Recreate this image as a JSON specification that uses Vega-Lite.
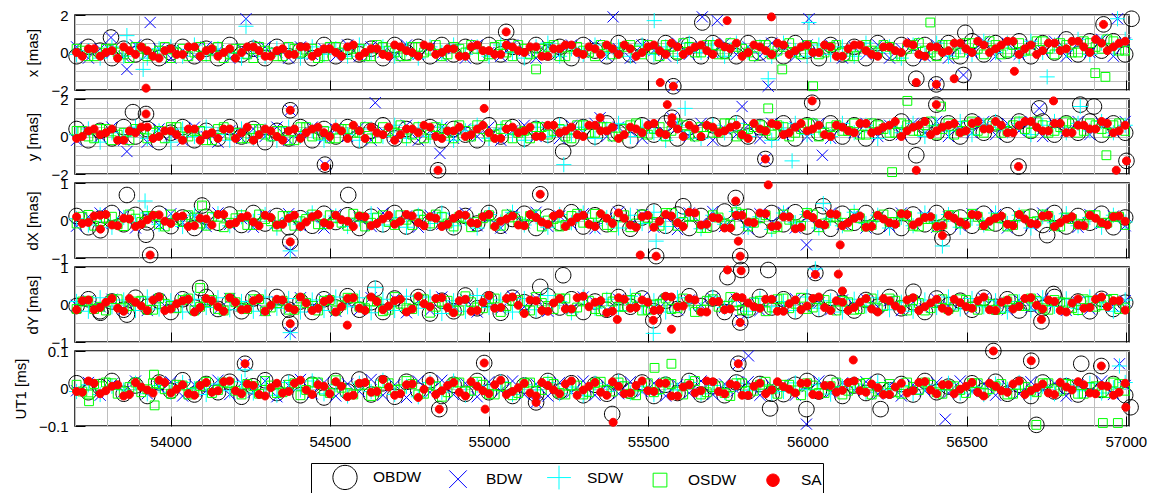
{
"$schema":"https://vega.github.io/schema/vega-lite/v6.json",
"background":"white",
"padding":{"left":12,"top":7,"right":5,"bottom":0},
"bounds":"flush",
"spacing":9,
"config":{
"font":"Liberation Sans",
"view":{"stroke":"black","strokeWidth":1.5},
"axis":{"labelFont":"Liberation Sans","labelFontSize":15,"labelColor":"black","titleFont":"Liberation Sans","titleFontSize":15,"titleFontWeight":"normal","titleColor":"black","gridColor":"#bebebe","gridWidth":1,"gridOpacity":1,"domain":false,"tickColor":"black","tickWidth":1,"labelFlush":false,"labelOverlap":false,"labelBound":false},
"legend":{"direction":"horizontal","columns":5,"symbolSize":625,"symbolStrokeWidth":1,"labelFont":"Liberation Sans","labelFontSize":15.5,"labelColor":"black","labelOffset":15,"columnPadding":3,"padding":1,"strokeColor":"black","strokeWidth":1,"fillColor":"white","symbolOffset":20,"labelLimit":0}
},
"datasets":{
"px":[
{"t":53705,"a":-0.2,"b":0.3,"c":-0.1,"d":0.2,"e":0.0},
{"t":53742,"a":0.3,"b":-0.3,"c":0.1,"d":-0.2,"e":0.2},
{"t":53779,"a":0.1,"b":0.2,"c":-0.3,"d":0.0,"e":-0.2},
{"t":53816,"a":-0.3,"b":0.0,"c":0.3,"d":0.2,"e":0.1},
{"t":53853,"a":0.2,"b":-0.2,"c":-0.2,"d":-0.1,"e":0.3},
{"t":53890,"a":-0.1,"b":0.4,"c":0.1,"d":0.3,"e":-0.1},
{"t":53927,"a":0.3,"b":-0.1,"c":-0.3,"d":-0.2,"e":0.1},
{"t":53964,"a":-0.3,"b":0.2,"c":0.2,"d":0.1,"e":-0.3},
{"t":54001,"a":0.0,"b":-0.3,"c":0.3,"d":-0.3,"e":0.2},
{"t":54038,"a":0.3,"b":0.1,"c":-0.2,"d":0.2,"e":-0.1},
{"t":54075,"a":-0.2,"b":-0.2,"c":0.4,"d":0.0,"e":0.3},
{"t":54112,"a":0.2,"b":0.3,"c":-0.1,"d":-0.2,"e":0.1},
{"t":54149,"a":-0.3,"b":0.1,"c":0.2,"d":0.3,"e":-0.2},
{"t":54186,"a":0.4,"b":-0.3,"c":0.0,"d":-0.1,"e":0.2},
{"t":54223,"a":-0.1,"b":0.2,"c":-0.3,"d":0.2,"e":0.0},
{"t":54260,"a":0.2,"b":-0.1,"c":0.3,"d":-0.3,"e":0.3},
{"t":54297,"a":-0.3,"b":0.3,"c":-0.2,"d":0.1,"e":-0.2},
{"t":54334,"a":0.3,"b":0.0,"c":0.2,"d":-0.2,"e":0.1},
{"t":54371,"a":-0.2,"b":-0.3,"c":0.1,"d":0.3,"e":-0.1},
{"t":54408,"a":0.1,"b":0.3,"c":-0.3,"d":0.0,"e":0.3},
{"t":54445,"a":-0.3,"b":-0.1,"c":0.3,"d":0.2,"e":-0.2},
{"t":54482,"a":0.4,"b":0.2,"c":-0.1,"d":-0.2,"e":0.2},
{"t":54519,"a":-0.2,"b":-0.2,"c":0.2,"d":0.3,"e":0.0},
{"t":54556,"a":0.3,"b":0.4,"c":-0.2,"d":-0.1,"e":0.3},
{"t":54593,"a":-0.1,"b":-0.2,"c":0.4,"d":0.2,"e":-0.2},
{"t":54630,"a":0.2,"b":0.3,"c":0.0,"d":-0.2,"e":0.2},
{"t":54667,"a":-0.3,"b":0.0,"c":0.3,"d":0.3,"e":-0.1},
{"t":54704,"a":0.4,"b":-0.2,"c":-0.2,"d":0.0,"e":0.4},
{"t":54741,"a":0.0,"b":0.4,"c":0.2,"d":-0.2,"e":0.1},
{"t":54778,"a":0.3,"b":-0.1,"c":-0.3,"d":0.3,"e":-0.2},
{"t":54815,"a":-0.2,"b":0.3,"c":0.3,"d":0.1,"e":0.3},
{"t":54852,"a":0.4,"b":-0.2,"c":0.0,"d":-0.2,"e":0.0},
{"t":54889,"a":-0.1,"b":0.2,"c":0.4,"d":0.3,"e":0.2},
{"t":54926,"a":0.3,"b":-0.3,"c":-0.1,"d":0.0,"e":-0.2},
{"t":54963,"a":-0.2,"b":0.4,"c":0.3,"d":0.2,"e":0.4},
{"t":55000,"a":0.4,"b":0.0,"c":-0.2,"d":-0.1,"e":0.1},
{"t":55037,"a":-0.1,"b":-0.2,"c":0.4,"d":0.4,"e":-0.1},
{"t":55074,"a":0.3,"b":0.4,"c":0.0,"d":-0.2,"e":0.3},
{"t":55111,"a":-0.2,"b":0.1,"c":-0.3,"d":0.2,"e":0.0},
{"t":55148,"a":0.4,"b":-0.3,"c":0.3,"d":0.0,"e":0.3},
{"t":55185,"a":0.0,"b":0.3,"c":0.5,"d":0.3,"e":-0.2},
{"t":55222,"a":0.3,"b":-0.1,"c":-0.2,"d":-0.2,"e":0.2},
{"t":55259,"a":-0.3,"b":0.4,"c":0.2,"d":0.3,"e":0.4},
{"t":55296,"a":0.4,"b":0.0,"c":-0.1,"d":0.1,"e":-0.1},
{"t":55333,"a":0.1,"b":0.4,"c":0.4,"d":-0.2,"e":0.2},
{"t":55370,"a":-0.2,"b":-0.2,"c":0.0,"d":0.3,"e":0.4},
{"t":55407,"a":0.5,"b":0.2,"c":0.3,"d":0.0,"e":-0.1},
{"t":55444,"a":-0.1,"b":-0.3,"c":-0.2,"d":0.4,"e":0.2},
{"t":55481,"a":0.3,"b":0.4,"c":0.4,"d":-0.1,"e":0.0},
{"t":55518,"a":-0.2,"b":0.1,"c":-0.1,"d":0.2,"e":0.4},
{"t":55555,"a":0.5,"b":-0.2,"c":0.3,"d":0.4,"e":-0.1},
{"t":55592,"a":0.0,"b":0.5,"c":-0.2,"d":-0.1,"e":0.3},
{"t":55629,"a":0.4,"b":-0.1,"c":0.5,"d":0.3,"e":0.1},
{"t":55666,"a":-0.2,"b":0.3,"c":0.0,"d":0.0,"e":0.4},
{"t":55703,"a":0.5,"b":0.0,"c":0.4,"d":0.4,"e":-0.1},
{"t":55740,"a":0.1,"b":0.5,"c":-0.2,"d":-0.1,"e":0.3},
{"t":55777,"a":-0.2,"b":-0.1,"c":0.5,"d":0.3,"e":0.5},
{"t":55814,"a":0.5,"b":0.3,"c":0.0,"d":0.0,"e":0.0},
{"t":55851,"a":0.0,"b":-0.2,"c":0.3,"d":0.4,"e":0.3},
{"t":55888,"a":0.4,"b":0.5,"c":-0.2,"d":-0.1,"e":-0.1},
{"t":55925,"a":-0.2,"b":0.1,"c":0.5,"d":0.3,"e":0.4},
{"t":55962,"a":0.5,"b":-0.2,"c":0.1,"d":0.0,"e":0.1},
{"t":55999,"a":0.1,"b":0.4,"c":-0.2,"d":0.4,"e":0.4},
{"t":56036,"a":-0.3,"b":0.0,"c":0.4,"d":-0.1,"e":0.0},
{"t":56073,"a":0.4,"b":0.4,"c":-0.1,"d":0.3,"e":0.3},
{"t":56110,"a":-0.1,"b":-0.3,"c":0.3,"d":0.0,"e":-0.2},
{"t":56147,"a":0.3,"b":0.3,"c":-0.2,"d":-0.2,"e":0.4},
{"t":56184,"a":-0.3,"b":-0.1,"c":0.5,"d":0.4,"e":0.1},
{"t":56221,"a":0.5,"b":0.4,"c":0.0,"d":0.0,"e":-0.2},
{"t":56258,"a":0.0,"b":-0.3,"c":0.3,"d":0.3,"e":0.3},
{"t":56295,"a":0.4,"b":0.2,"c":-0.3,"d":-0.2,"e":0.0},
{"t":56332,"a":-0.3,"b":0.5,"c":0.4,"d":0.4,"e":0.4},
{"t":56369,"a":0.4,"b":-0.2,"c":-0.1,"d":0.1,"e":-0.2},
{"t":56406,"a":0.0,"b":0.4,"c":0.5,"d":-0.2,"e":0.3},
{"t":56443,"a":0.5,"b":-0.3,"c":-0.2,"d":0.4,"e":0.1},
{"t":56480,"a":-0.2,"b":0.3,"c":0.3,"d":0.0,"e":0.5},
{"t":56517,"a":0.6,"b":0.0,"c":-0.1,"d":0.5,"e":0.0},
{"t":56554,"a":-0.1,"b":0.6,"c":0.6,"d":-0.1,"e":0.4},
{"t":56591,"a":0.5,"b":-0.2,"c":0.0,"d":0.4,"e":0.2},
{"t":56628,"a":0.1,"b":0.5,"c":0.5,"d":0.0,"e":0.6},
{"t":56665,"a":0.6,"b":-0.1,"c":-0.2,"d":0.5,"e":-0.1},
{"t":56702,"a":-0.2,"b":0.4,"c":0.6,"d":0.1,"e":0.4},
{"t":56739,"a":0.5,"b":0.1,"c":0.0,"d":0.6,"e":0.1},
{"t":56776,"a":0.0,"b":0.6,"c":0.4,"d":-0.1,"e":0.5},
{"t":56813,"a":0.7,"b":-0.2,"c":0.1,"d":0.4,"e":0.2},
{"t":56850,"a":-0.1,"b":0.5,"c":0.7,"d":0.0,"e":0.6},
{"t":56887,"a":0.6,"b":0.0,"c":-0.1,"d":0.5,"e":0.0},
{"t":56924,"a":0.1,"b":0.7,"c":0.5,"d":0.2,"e":0.5},
{"t":56961,"a":0.6,"b":-0.2,"c":0.2,"d":0.6,"e":0.3},
{"t":56998,"a":-0.1,"b":0.5,"c":0.7,"d":0.1,"e":0.6},
{"t":53723,"d":0.1,"e":-0.2},{"t":53760,"d":-0.2,"e":0.2},{"t":53797,"d":0.2,"e":0.0},{"t":53834,"d":0.0,"e":-0.3},{"t":53871,"d":-0.3,"e":0.1},{"t":53908,"d":0.2,"e":0.3},{"t":53945,"d":-0.1,"e":-0.2},{"t":53982,"d":0.3,"e":0.1},{"t":54019,"d":0.0,"e":-0.1},{"t":54056,"d":-0.2,"e":0.3},
{"t":54093,"d":0.3,"e":-0.2},{"t":54130,"d":0.1,"e":0.2},{"t":54167,"d":-0.3,"e":0.0},{"t":54204,"d":0.2,"e":-0.3},{"t":54241,"d":-0.1,"e":0.3},{"t":54278,"d":0.3,"e":0.1},{"t":54315,"d":0.0,"e":-0.2},{"t":54352,"d":-0.2,"e":0.2},{"t":54389,"d":0.2,"e":-0.1},{"t":54426,"d":0.1,"e":0.3},
{"t":54463,"d":-0.3,"e":0.0},{"t":54500,"d":0.3,"e":0.2},{"t":54537,"d":0.0,"e":-0.2},{"t":54574,"d":0.2,"e":0.4},{"t":54611,"d":-0.2,"e":0.0},{"t":54648,"d":0.4,"e":0.2},{"t":54685,"d":0.1,"e":-0.2},{"t":54722,"d":-0.2,"e":0.3},{"t":54759,"d":0.3,"e":0.0},{"t":54796,"d":0.0,"e":0.4},
{"t":54833,"d":0.4,"e":-0.1},{"t":54870,"d":-0.1,"e":0.2},{"t":54907,"d":0.2,"e":-0.2},{"t":54944,"d":0.4,"e":0.3},{"t":54981,"d":-0.2,"e":0.1},{"t":55018,"d":0.3,"e":-0.1},{"t":55055,"d":0.0,"e":0.4},{"t":55092,"d":0.4,"e":0.1},{"t":55129,"d":-0.1,"e":0.3},{"t":55166,"d":0.2,"e":-0.2},
{"t":55203,"d":0.4,"e":0.2},{"t":55240,"d":-0.2,"e":0.4},{"t":55277,"d":0.3,"e":0.0},{"t":55314,"d":0.0,"e":0.3},{"t":55351,"d":0.4,"e":-0.1},{"t":55388,"d":-0.1,"e":0.2},{"t":55425,"d":0.3,"e":0.4},{"t":55462,"d":0.1,"e":-0.2},{"t":55499,"d":0.4,"e":0.3},{"t":55536,"d":-0.2,"e":0.1},
{"t":55573,"d":0.3,"e":0.5},{"t":55610,"d":0.5,"e":-0.1},{"t":55647,"d":0.0,"e":0.3},{"t":55684,"d":0.4,"e":0.1},{"t":55721,"d":-0.1,"e":0.5},{"t":55758,"d":0.5,"e":0.2},{"t":55795,"d":0.2,"e":-0.2},{"t":55832,"d":-0.2,"e":0.4},{"t":55869,"d":0.4,"e":0.1},{"t":55906,"d":0.1,"e":0.5},
{"t":55943,"d":0.5,"e":-0.1},{"t":55980,"d":-0.1,"e":0.3},{"t":56017,"d":0.3,"e":0.0},{"t":56054,"d":0.0,"e":0.4},{"t":56091,"d":0.4,"e":-0.2},{"t":56128,"d":-0.2,"e":0.2},{"t":56165,"d":0.3,"e":0.4},{"t":56202,"d":0.1,"e":-0.1},{"t":56239,"d":0.4,"e":0.3},{"t":56276,"d":-0.2,"e":0.1},
{"t":56313,"d":0.2,"e":0.5},{"t":56350,"d":0.5,"e":-0.1},{"t":56387,"d":0.0,"e":0.3},{"t":56424,"d":0.4,"e":0.0},{"t":56461,"d":-0.1,"e":0.5},{"t":56498,"d":0.5,"e":0.2},{"t":56535,"d":0.2,"e":0.6},{"t":56572,"d":0.6,"e":0.0},{"t":56609,"d":-0.1,"e":0.4},{"t":56646,"d":0.4,"e":0.6},
{"t":56683,"d":0.1,"e":0.2},{"t":56720,"d":0.6,"e":-0.1},{"t":56757,"d":0.2,"e":0.5},{"t":56794,"d":0.5,"e":0.1},{"t":56831,"d":0.0,"e":0.6},{"t":56868,"d":0.6,"e":0.3},{"t":56905,"d":0.3,"e":0.7},{"t":56942,"d":0.7,"e":0.1},{"t":56979,"d":0.1,"e":0.5},
{"t":53813,"a":0.8,"b":0.8},
{"t":53863,"b":-0.9,"c":0.9},
{"t":53914,"c":-0.9},
{"t":53923,"e":-1.9},
{"t":53936,"b":1.6},
{"t":54237,"b":1.8,"c":1.4},
{"t":55054,"a":1.1,"e":1.1},
{"t":55148,"d":-0.9},
{"t":55390,"b":1.9},
{"t":55519,"c":1.7},
{"t":55538,"e":-1.6},
{"t":55579,"a":-1.8,"b":-1.8,"e":-1.8},
{"t":55670,"a":1.6,"b":1.9},
{"t":55717,"b":1.7},
{"t":55748,"e":1.7},
{"t":55877,"b":-1.8,"c":-1.4},
{"t":55887,"e":1.9},
{"t":55921,"d":-0.9},
{"t":56005,"b":1.8,"c":1.6},
{"t":56018,"d":-1.8},
{"t":56342,"a":-1.4,"e":-1.6},
{"t":56386,"d":1.6},
{"t":56405,"a":-1.7,"b":-1.7,"e":-1.7},
{"t":56461,"e":-1.4},
{"t":56490,"a":-1.2,"b":-1.2},
{"t":56496,"a":1.05},
{"t":56650,"e":-1.0},
{"t":56753,"c":-1.3},
{"t":56904,"d":-1.1},
{"t":56936,"d":-1.3},
{"t":56930,"a":1.5,"e":1.5},
{"t":56974,"b":1.8,"c":1.8},
{"t":57018,"a":1.8}
],
"py":[
{"t":53705,"a":0.4,"b":-0.2,"c":0.1,"d":0.3,"e":-0.1},
{"t":53742,"a":-0.2,"b":0.3,"c":0.4,"d":0.0,"e":0.3},
{"t":53779,"a":0.3,"b":0.0,"c":-0.3,"d":0.4,"e":0.1},
{"t":53816,"a":-0.1,"b":0.5,"c":0.2,"d":-0.2,"e":0.4},
{"t":53853,"a":0.5,"b":-0.2,"c":0.0,"d":0.2,"e":-0.2},
{"t":53890,"a":0.0,"b":0.3,"c":0.5,"d":0.4,"e":0.2},
{"t":53927,"a":0.4,"b":-0.3,"c":-0.1,"d":-0.1,"e":0.5},
{"t":53964,"a":-0.3,"b":0.4,"c":0.3,"d":0.3,"e":0.0},
{"t":54001,"a":0.2,"b":0.1,"c":-0.3,"d":0.5,"e":0.3},
{"t":54038,"a":0.5,"b":-0.2,"c":0.4,"d":0.0,"e":-0.2},
{"t":54075,"a":-0.2,"b":0.5,"c":0.0,"d":0.3,"e":0.4},
{"t":54112,"a":0.3,"b":0.0,"c":0.5,"d":-0.2,"e":0.1},
{"t":54149,"a":-0.1,"b":-0.3,"c":0.1,"d":0.4,"e":-0.1},
{"t":54186,"a":0.5,"b":0.3,"c":-0.2,"d":0.1,"e":0.4},
{"t":54223,"a":0.0,"b":-0.1,"c":0.4,"d":-0.1,"e":0.2},
{"t":54260,"a":0.4,"b":0.4,"c":-0.1,"d":0.4,"e":-0.2},
{"t":54297,"a":-0.3,"b":0.0,"c":0.3,"d":0.1,"e":0.4},
{"t":54334,"a":0.3,"b":0.5,"c":-0.2,"d":0.3,"e":0.0},
{"t":54371,"a":-0.1,"b":-0.2,"c":0.5,"d":-0.2,"e":0.3},
{"t":54408,"a":0.5,"b":0.2,"c":0.0,"d":0.5,"e":-0.1},
{"t":54445,"a":-0.2,"b":0.5,"c":0.3,"d":0.0,"e":0.4},
{"t":54482,"a":0.4,"b":-0.1,"c":-0.2,"d":0.3,"e":0.2},
{"t":54519,"a":0.0,"b":0.4,"c":0.5,"d":-0.1,"e":0.5},
{"t":54556,"a":0.5,"b":0.0,"c":0.1,"d":0.4,"e":-0.1},
{"t":54593,"a":-0.2,"b":0.5,"c":-0.2,"d":0.2,"e":0.3},
{"t":54630,"a":0.3,"b":-0.2,"c":0.4,"d":-0.1,"e":0.5},
{"t":54667,"a":0.6,"b":0.3,"c":0.0,"d":0.5,"e":0.1},
{"t":54704,"a":-0.1,"b":0.0,"c":0.6,"d":0.2,"e":-0.2},
{"t":54741,"a":0.4,"b":0.6,"c":-0.1,"d":-0.1,"e":0.4},
{"t":54778,"a":0.0,"b":-0.2,"c":0.4,"d":0.5,"e":0.2},
{"t":54815,"a":0.5,"b":0.3,"c":0.0,"d":0.1,"e":0.5},
{"t":54852,"a":-0.2,"b":0.5,"c":0.5,"d":0.4,"e":-0.1},
{"t":54889,"a":0.4,"b":-0.1,"c":-0.2,"d":-0.1,"e":0.3},
{"t":54926,"a":0.1,"b":0.4,"c":0.3,"d":0.3,"e":0.0},
{"t":54963,"a":-0.2,"b":0.0,"c":0.6,"d":0.6,"e":0.4},
{"t":55000,"a":0.6,"b":0.5,"c":-0.1,"d":0.0,"e":0.2},
{"t":55037,"a":0.0,"b":-0.2,"c":0.4,"d":0.4,"e":-0.1},
{"t":55074,"a":0.5,"b":0.3,"c":0.1,"d":-0.1,"e":0.5},
{"t":55111,"a":-0.1,"b":0.6,"c":-0.2,"d":0.3,"e":0.3},
{"t":55148,"a":0.4,"b":0.0,"c":0.5,"d":0.5,"e":0.0},
{"t":55185,"a":0.1,"b":0.5,"c":0.0,"d":0.1,"e":0.6},
{"t":55222,"a":0.6,"b":-0.1,"c":0.6,"d":0.4,"e":0.2},
{"t":55259,"a":-0.1,"b":0.6,"c":0.1,"d":-0.1,"e":0.5},
{"t":55296,"a":0.5,"b":0.2,"c":0.5,"d":0.6,"e":0.0},
{"t":55333,"a":0.0,"b":0.7,"c":-0.1,"d":0.2,"e":0.6},
{"t":55370,"a":0.7,"b":0.0,"c":0.4,"d":0.5,"e":0.3},
{"t":55407,"a":0.2,"b":0.5,"c":0.7,"d":0.0,"e":-0.1},
{"t":55444,"a":-0.2,"b":0.3,"c":0.0,"d":0.6,"e":0.5},
{"t":55481,"a":0.6,"b":-0.1,"c":0.5,"d":0.2,"e":0.2},
{"t":55518,"a":0.1,"b":0.6,"c":0.2,"d":0.4,"e":0.7},
{"t":55555,"a":0.7,"b":0.2,"c":-0.2,"d":0.0,"e":0.1},
{"t":55592,"a":-0.1,"b":0.5,"c":0.6,"d":0.7,"e":0.4},
{"t":55629,"a":0.5,"b":0.0,"c":0.3,"d":0.1,"e":0.6},
{"t":55666,"a":0.2,"b":0.7,"c":-0.1,"d":0.5,"e":0.0},
{"t":55703,"a":0.6,"b":-0.2,"c":0.6,"d":0.2,"e":0.5},
{"t":55740,"a":-0.1,"b":0.4,"c":0.2,"d":0.7,"e":0.3},
{"t":55777,"a":0.7,"b":0.1,"c":0.7,"d":0.0,"e":0.6},
{"t":55814,"a":0.0,"b":0.6,"c":0.0,"d":0.4,"e":-0.1},
{"t":55851,"a":0.5,"b":-0.1,"c":0.5,"d":0.6,"e":0.4},
{"t":55888,"a":0.2,"b":0.7,"c":-0.2,"d":0.1,"e":0.7},
{"t":55925,"a":0.7,"b":0.1,"c":0.4,"d":0.5,"e":0.1},
{"t":55962,"a":-0.1,"b":0.5,"c":0.7,"d":0.2,"e":0.5},
{"t":55999,"a":0.6,"b":0.0,"c":0.1,"d":0.7,"e":0.3},
{"t":56036,"a":0.2,"b":0.7,"c":0.5,"d":0.0,"e":0.6},
{"t":56073,"a":0.7,"b":-0.1,"c":0.0,"d":0.5,"e":0.0},
{"t":56110,"a":0.0,"b":0.5,"c":0.7,"d":0.3,"e":0.5},
{"t":56147,"a":0.6,"b":0.2,"c":0.2,"d":0.7,"e":0.2},
{"t":56184,"a":-0.1,"b":0.7,"c":0.6,"d":0.1,"e":0.7},
{"t":56221,"a":0.5,"b":0.0,"c":-0.1,"d":0.6,"e":0.3},
{"t":56258,"a":0.2,"b":0.6,"c":0.5,"d":0.2,"e":0.6},
{"t":56295,"a":0.8,"b":0.1,"c":0.2,"d":0.7,"e":0.0},
{"t":56332,"a":0.0,"b":0.7,"c":0.7,"d":0.3,"e":0.5},
{"t":56369,"a":0.6,"b":0.2,"c":0.0,"d":0.6,"e":0.8},
{"t":56406,"a":0.2,"b":0.8,"c":0.6,"d":0.1,"e":0.3},
{"t":56443,"a":0.7,"b":0.0,"c":0.3,"d":0.7,"e":0.6},
{"t":56480,"a":0.0,"b":0.6,"c":0.8,"d":0.3,"e":0.2},
{"t":56517,"a":0.8,"b":0.2,"c":0.1,"d":0.8,"e":0.7},
{"t":56554,"a":0.2,"b":0.8,"c":0.6,"d":0.2,"e":0.4},
{"t":56591,"a":0.7,"b":0.1,"c":0.8,"d":0.6,"e":0.8},
{"t":56628,"a":0.1,"b":0.7,"c":0.3,"d":0.3,"e":0.2},
{"t":56665,"a":0.8,"b":0.3,"c":0.7,"d":0.8,"e":0.6},
{"t":56702,"a":0.3,"b":0.8,"c":0.1,"d":0.2,"e":0.8},
{"t":56739,"a":0.8,"b":0.0,"c":0.6,"d":0.6,"e":0.3},
{"t":56776,"a":0.1,"b":0.7,"c":0.8,"d":0.3,"e":0.7},
{"t":56813,"a":0.7,"b":0.3,"c":0.2,"d":0.8,"e":0.2},
{"t":56850,"a":0.2,"b":0.8,"c":0.7,"d":0.2,"e":0.6},
{"t":56887,"a":0.8,"b":0.1,"c":0.3,"d":0.7,"e":0.4},
{"t":56924,"a":0.1,"b":0.7,"c":0.8,"d":0.4,"e":0.8},
{"t":56961,"a":0.7,"b":0.3,"c":0.2,"d":0.6,"e":0.2},
{"t":56998,"a":0.2,"b":0.8,"c":0.6,"d":0.3,"e":0.6},
{"t":53723,"d":0.3,"e":0.0},{"t":53760,"d":-0.1,"e":0.4},{"t":53797,"d":0.4,"e":0.2},{"t":53834,"d":0.1,"e":-0.2},{"t":53871,"d":-0.2,"e":0.3},{"t":53908,"d":0.4,"e":0.5},{"t":53945,"d":0.2,"e":-0.1},{"t":53982,"d":-0.1,"e":0.3},{"t":54019,"d":0.5,"e":0.1},{"t":54056,"d":0.0,"e":0.4},
{"t":54093,"d":0.3,"e":-0.2},{"t":54130,"d":-0.2,"e":0.2},{"t":54167,"d":0.5,"e":0.4},{"t":54204,"d":0.2,"e":-0.1},{"t":54241,"d":-0.1,"e":0.5},{"t":54278,"d":0.4,"e":0.1},{"t":54315,"d":0.0,"e":0.3},{"t":54352,"d":0.3,"e":-0.2},{"t":54389,"d":-0.2,"e":0.4},{"t":54426,"d":0.5,"e":0.2},
{"t":54463,"d":0.1,"e":0.5},{"t":54500,"d":-0.1,"e":0.0},{"t":54537,"d":0.4,"e":0.3},{"t":54574,"d":0.2,"e":0.6},{"t":54611,"d":0.5,"e":-0.1},{"t":54648,"d":-0.1,"e":0.2},{"t":54685,"d":0.3,"e":0.5},{"t":54722,"d":0.6,"e":0.1},{"t":54759,"d":0.1,"e":0.4},{"t":54796,"d":-0.1,"e":0.6},
{"t":54833,"d":0.5,"e":0.0},{"t":54870,"d":0.2,"e":0.3},{"t":54907,"d":0.6,"e":0.5},{"t":54944,"d":0.0,"e":0.1},{"t":54981,"d":0.4,"e":0.6},{"t":55018,"d":0.1,"e":-0.1},{"t":55055,"d":0.6,"e":0.4},{"t":55092,"d":0.2,"e":0.2},{"t":55129,"d":-0.1,"e":0.5},{"t":55166,"d":0.5,"e":0.0},
{"t":55203,"d":0.3,"e":0.6},{"t":55240,"d":0.0,"e":0.3},{"t":55277,"d":0.6,"e":0.1},{"t":55314,"d":0.2,"e":0.6},{"t":55351,"d":0.5,"e":0.3},{"t":55388,"d":0.0,"e":0.5},{"t":55425,"d":0.4,"e":0.1},{"t":55462,"d":0.7,"e":0.4},{"t":55499,"d":0.1,"e":0.6},{"t":55536,"d":0.5,"e":0.2},
{"t":55573,"d":0.3,"e":0.7},{"t":55610,"d":0.6,"e":0.0},{"t":55647,"d":0.0,"e":0.4},{"t":55684,"d":0.5,"e":0.6},{"t":55721,"d":0.2,"e":0.2},{"t":55758,"d":0.7,"e":0.5},{"t":55795,"d":0.1,"e":0.1},{"t":55832,"d":0.5,"e":0.7},{"t":55869,"d":0.3,"e":0.3},{"t":55906,"d":0.6,"e":0.6},
{"t":55943,"d":0.0,"e":0.2},{"t":55980,"d":0.4,"e":0.7},{"t":56017,"d":0.7,"e":0.4},{"t":56054,"d":0.2,"e":0.1},{"t":56091,"d":0.6,"e":0.6},{"t":56128,"d":0.3,"e":0.3},{"t":56165,"d":0.1,"e":0.7},{"t":56202,"d":0.7,"e":0.2},{"t":56239,"d":0.4,"e":0.5},{"t":56276,"d":0.2,"e":0.8},
{"t":56313,"d":0.6,"e":0.3},{"t":56350,"d":0.3,"e":0.6},{"t":56387,"d":0.8,"e":0.1},{"t":56424,"d":0.4,"e":0.5},{"t":56461,"d":0.1,"e":0.7},{"t":56498,"d":0.6,"e":0.3},{"t":56535,"d":0.3,"e":0.8},{"t":56572,"d":0.7,"e":0.4},{"t":56609,"d":0.2,"e":0.6},{"t":56646,"d":0.6,"e":0.2},
{"t":56683,"d":0.4,"e":0.8},{"t":56720,"d":0.8,"e":0.5},{"t":56757,"d":0.2,"e":0.3},{"t":56794,"d":0.5,"e":0.7},{"t":56831,"d":0.7,"e":0.2},{"t":56868,"d":0.3,"e":0.6},{"t":56905,"d":0.6,"e":0.4},{"t":56942,"d":0.2,"e":0.7},{"t":56979,"d":0.7,"e":0.3},
{"t":53882,"a":1.3},
{"t":53923,"a":1.2,"e":1.2},
{"t":53863,"b":-0.8},
{"t":54376,"a":1.4,"b":1.4,"e":1.4},
{"t":54643,"b":1.8},
{"t":54485,"a":-1.5,"b":-1.5,"e":-1.6},
{"t":54840,"a":-1.8,"e":-1.8},
{"t":54846,"b":-0.9},
{"t":54985,"e":1.5},
{"t":55349,"b":1.0,"e":1.0},
{"t":55233,"a":-0.8},
{"t":55235,"c":-1.5},
{"t":55560,"e":1.7},
{"t":55575,"a":1.0,"b":1.0,"e":1.0},
{"t":55616,"c":1.5},
{"t":55795,"b":1.6},
{"t":55877,"d":1.5},
{"t":56015,"a":1.8,"e":1.9},
{"t":55868,"a":-1.2,"b":-1.2,"e":-1.2},
{"t":55952,"c":-1.3},
{"t":56047,"b":-1.0},
{"t":56314,"d":1.9},
{"t":56405,"a":1.7,"e":1.7},
{"t":56420,"d":1.6},
{"t":56342,"a":-1.0,"e":-1.8},
{"t":56266,"d":-1.9},
{"t":56663,"a":-1.6,"e":-1.6},
{"t":56773,"e":1.9},
{"t":56728,"a":1.5,"b":1.5},
{"t":56857,"a":1.7,"c":1.6},
{"t":56900,"a":1.6},
{"t":56970,"e":-1.8},
{"t":57002,"a":-1.3,"e":-1.3},
{"t":56939,"d":-1.0}
],
"pdx":[
{"t":53705,"a":0.12,"b":-0.15,"c":0.05,"d":-0.08,"e":0.10},
{"t":53742,"a":-0.18,"b":0.10,"c":-0.12,"d":0.15,"e":-0.05},
{"t":53779,"a":0.05,"b":0.20,"c":0.15,"d":-0.02,"e":0.14},
{"t":53816,"a":0.20,"b":-0.08,"c":-0.18,"d":0.10,"e":-0.12},
{"t":53853,"a":-0.10,"b":0.15,"c":0.08,"d":-0.15,"e":0.06},
{"t":53890,"a":0.15,"b":-0.20,"c":-0.05,"d":0.05,"e":-0.16},
{"t":53927,"a":-0.05,"b":0.08,"c":0.20,"d":0.12,"e":0.02},
{"t":53964,"a":0.18,"b":-0.12,"c":-0.10,"d":-0.10,"e":0.15},
{"t":54001,"a":-0.15,"b":0.18,"c":0.02,"d":0.16,"e":-0.08},
{"t":54038,"a":0.08,"b":-0.05,"c":-0.16,"d":-0.04,"e":0.12},
{"t":54075,"a":-0.20,"b":0.12,"c":0.14,"d":0.08,"e":-0.14},
{"t":54112,"a":0.10,"b":-0.16,"c":-0.06,"d":-0.14,"e":0.04},
{"t":54149,"a":-0.06,"b":0.20,"c":0.18,"d":0.10,"e":0.16},
{"t":54186,"a":0.16,"b":-0.10,"c":-0.14,"d":-0.06,"e":-0.10},
{"t":54223,"a":-0.12,"b":0.05,"c":0.10,"d":0.14,"e":0.08},
{"t":54260,"a":0.20,"b":-0.18,"c":-0.02,"d":-0.12,"e":-0.04},
{"t":54297,"a":-0.08,"b":0.14,"c":0.16,"d":0.04,"e":0.14},
{"t":54334,"a":0.12,"b":-0.06,"c":-0.20,"d":-0.16,"e":-0.12},
{"t":54371,"a":-0.18,"b":0.18,"c":0.06,"d":0.12,"e":0.06},
{"t":54408,"a":0.06,"b":-0.14,"c":-0.10,"d":-0.02,"e":-0.16},
{"t":54445,"a":-0.14,"b":0.10,"c":0.20,"d":0.16,"e":0.10},
{"t":54482,"a":0.18,"b":-0.20,"c":-0.06,"d":-0.10,"e":-0.06},
{"t":54519,"a":-0.04,"b":0.16,"c":0.12,"d":0.06,"e":0.14},
{"t":54556,"a":0.14,"b":-0.08,"c":-0.16,"d":-0.14,"e":-0.02},
{"t":54593,"a":-0.20,"b":0.06,"c":0.04,"d":0.10,"e":0.12},
{"t":54630,"a":0.10,"b":-0.16,"c":0.18,"d":-0.06,"e":-0.14},
{"t":54667,"a":-0.10,"b":0.20,"c":-0.12,"d":0.14,"e":0.04},
{"t":54704,"a":0.20,"b":-0.04,"c":0.08,"d":-0.12,"e":-0.10},
{"t":54741,"a":-0.16,"b":0.12,"c":-0.18,"d":0.02,"e":0.16},
{"t":54778,"a":0.08,"b":-0.18,"c":0.14,"d":0.16,"e":-0.06},
{"t":54815,"a":-0.06,"b":0.14,"c":-0.08,"d":-0.08,"e":0.10},
{"t":54852,"a":0.16,"b":-0.10,"c":0.20,"d":0.10,"e":-0.16},
{"t":54889,"a":-0.18,"b":0.04,"c":-0.14,"d":-0.16,"e":0.06},
{"t":54926,"a":0.12,"b":0.20,"c":0.06,"d":0.06,"e":0.14},
{"t":54963,"a":-0.08,"b":-0.14,"c":-0.20,"d":-0.04,"e":-0.08},
{"t":55000,"a":0.20,"b":0.08,"c":0.16,"d":0.14,"e":0.16},
{"t":55037,"a":-0.14,"b":-0.20,"c":-0.04,"d":-0.14,"e":-0.02},
{"t":55074,"a":0.04,"b":0.16,"c":0.22,"d":0.08,"e":0.12},
{"t":55111,"a":0.18,"b":-0.06,"c":-0.12,"d":-0.10,"e":-0.14},
{"t":55148,"a":-0.20,"b":0.22,"c":0.10,"d":0.16,"e":0.08},
{"t":55185,"a":0.10,"b":-0.16,"c":-0.18,"d":0.00,"e":-0.10},
{"t":55222,"a":-0.06,"b":0.12,"c":0.16,"d":-0.16,"e":0.18},
{"t":55259,"a":0.22,"b":-0.10,"c":-0.06,"d":0.12,"e":-0.04},
{"t":55296,"a":-0.16,"b":0.18,"c":0.20,"d":-0.06,"e":0.14},
{"t":55333,"a":0.14,"b":-0.22,"c":-0.14,"d":0.18,"e":-0.16},
{"t":55370,"a":-0.10,"b":0.06,"c":0.08,"d":-0.12,"e":0.06},
{"t":55407,"a":0.20,"b":0.22,"c":-0.20,"d":0.08,"e":0.20},
{"t":55444,"a":-0.22,"b":-0.12,"c":0.14,"d":-0.18,"e":-0.12},
{"t":55481,"a":0.08,"b":0.16,"c":-0.08,"d":0.16,"e":0.10},
{"t":55518,"a":0.24,"b":-0.18,"c":0.22,"d":-0.04,"e":-0.18},
{"t":55555,"a":-0.14,"b":0.10,"c":-0.16,"d":0.20,"e":0.16},
{"t":55592,"a":0.16,"b":-0.24,"c":0.06,"d":-0.14,"e":-0.06},
{"t":55629,"a":-0.20,"b":0.20,"c":0.18,"d":0.10,"e":0.22},
{"t":55666,"a":0.12,"b":-0.08,"c":-0.22,"d":-0.20,"e":-0.12},
{"t":55703,"a":-0.08,"b":0.24,"c":0.14,"d":0.14,"e":0.08},
{"t":55740,"a":0.24,"b":-0.16,"c":-0.10,"d":-0.08,"e":-0.20},
{"t":55777,"a":-0.18,"b":0.14,"c":0.24,"d":0.22,"e":0.14},
{"t":55814,"a":0.10,"b":-0.22,"c":-0.18,"d":-0.16,"e":-0.04},
{"t":55851,"a":-0.24,"b":0.18,"c":0.10,"d":0.06,"e":0.20},
{"t":55888,"a":0.20,"b":-0.06,"c":-0.24,"d":-0.22,"e":-0.16},
{"t":55925,"a":-0.10,"b":0.22,"c":0.20,"d":0.16,"e":0.10},
{"t":55962,"a":0.22,"b":-0.20,"c":-0.06,"d":-0.10,"e":-0.22},
{"t":55999,"a":-0.16,"b":0.10,"c":0.16,"d":0.20,"e":0.16},
{"t":56036,"a":0.14,"b":-0.14,"c":-0.20,"d":-0.18,"e":-0.08},
{"t":56073,"a":-0.22,"b":0.20,"c":0.06,"d":0.08,"e":0.18},
{"t":56110,"a":0.18,"b":-0.10,"c":-0.14,"d":-0.06,"e":-0.14},
{"t":56147,"a":-0.06,"b":0.16,"c":0.22,"d":0.18,"e":0.06},
{"t":56184,"a":0.20,"b":-0.20,"c":-0.08,"d":-0.16,"e":-0.18},
{"t":56221,"a":-0.16,"b":0.08,"c":0.14,"d":0.10,"e":0.14},
{"t":56258,"a":0.12,"b":-0.16,"c":-0.20,"d":-0.04,"e":-0.06},
{"t":56295,"a":-0.20,"b":0.20,"c":0.08,"d":0.16,"e":0.18},
{"t":56332,"a":0.16,"b":-0.08,"c":-0.14,"d":-0.14,"e":-0.12},
{"t":56369,"a":-0.10,"b":0.14,"c":0.20,"d":0.04,"e":0.08},
{"t":56406,"a":0.20,"b":-0.18,"c":-0.04,"d":-0.18,"e":-0.16},
{"t":56443,"a":-0.18,"b":0.10,"c":0.16,"d":0.14,"e":0.14},
{"t":56480,"a":0.08,"b":-0.14,"c":-0.18,"d":-0.08,"e":-0.04},
{"t":56517,"a":-0.14,"b":0.18,"c":0.06,"d":0.18,"e":0.16},
{"t":56554,"a":0.18,"b":-0.06,"c":-0.12,"d":-0.12,"e":-0.14},
{"t":56591,"a":-0.08,"b":0.16,"c":0.20,"d":0.06,"e":0.06},
{"t":56628,"a":0.14,"b":-0.20,"c":-0.08,"d":-0.16,"e":-0.10},
{"t":56665,"a":-0.20,"b":0.10,"c":0.14,"d":0.12,"e":0.16},
{"t":56702,"a":0.10,"b":-0.12,"c":-0.20,"d":-0.04,"e":-0.08},
{"t":56739,"a":-0.12,"b":0.20,"c":0.10,"d":0.16,"e":0.12},
{"t":56776,"a":0.20,"b":-0.16,"c":-0.06,"d":-0.14,"e":-0.16},
{"t":56813,"a":-0.16,"b":0.06,"c":0.18,"d":0.08,"e":0.04},
{"t":56850,"a":0.12,"b":-0.18,"c":-0.14,"d":-0.10,"e":-0.12},
{"t":56887,"a":-0.06,"b":0.16,"c":0.08,"d":0.14,"e":0.14},
{"t":56924,"a":0.18,"b":-0.08,"c":-0.18,"d":-0.06,"e":-0.06},
{"t":56961,"a":-0.18,"b":0.12,"c":0.14,"d":0.10,"e":0.10},
{"t":56998,"a":0.08,"b":-0.14,"c":-0.04,"d":-0.12,"e":-0.02},
{"t":53723,"d":0.10,"e":-0.08},{"t":53760,"d":-0.14,"e":0.12},{"t":53797,"d":0.06,"e":0.16},{"t":53834,"d":-0.10,"e":-0.14},{"t":53871,"d":0.16,"e":0.04},{"t":53908,"d":-0.04,"e":-0.10},{"t":53945,"d":0.12,"e":0.14},{"t":53982,"d":-0.16,"e":-0.02},{"t":54019,"d":0.02,"e":0.10},{"t":54056,"d":0.14,"e":-0.16},
{"t":54093,"d":-0.08,"e":0.06},{"t":54130,"d":0.10,"e":-0.12},{"t":54167,"d":-0.18,"e":0.16},{"t":54204,"d":0.06,"e":-0.06},{"t":54241,"d":-0.12,"e":0.12},{"t":54278,"d":0.16,"e":-0.14},{"t":54315,"d":-0.02,"e":0.08},{"t":54352,"d":0.12,"e":-0.10},{"t":54389,"d":-0.14,"e":0.14},{"t":54426,"d":0.04,"e":-0.04},
{"t":54463,"d":-0.10,"e":0.16},{"t":54500,"d":0.14,"e":-0.12},{"t":54537,"d":-0.06,"e":0.02},{"t":54574,"d":0.18,"e":-0.16},{"t":54611,"d":-0.16,"e":0.10},{"t":54648,"d":0.08,"e":-0.08},{"t":54685,"d":-0.04,"e":0.14},{"t":54722,"d":0.14,"e":-0.02},{"t":54759,"d":-0.12,"e":0.12},{"t":54796,"d":0.02,"e":-0.14},
{"t":54833,"d":0.16,"e":0.06},{"t":54870,"d":-0.08,"e":-0.10},{"t":54907,"d":0.10,"e":0.16},{"t":54944,"d":-0.18,"e":-0.06},{"t":54981,"d":0.06,"e":0.10},{"t":55018,"d":-0.10,"e":-0.16},{"t":55055,"d":0.16,"e":0.04},{"t":55092,"d":-0.02,"e":-0.12},{"t":55129,"d":0.12,"e":0.16},{"t":55166,"d":-0.16,"e":-0.04},
{"t":55203,"d":0.04,"e":0.12},{"t":55240,"d":-0.12,"e":-0.16},{"t":55277,"d":0.18,"e":0.08},{"t":55314,"d":-0.06,"e":-0.10},{"t":55351,"d":0.10,"e":0.18},{"t":55388,"d":-0.18,"e":-0.08},{"t":55425,"d":0.14,"e":0.06},{"t":55462,"d":-0.08,"e":-0.18},{"t":55499,"d":0.06,"e":0.14},{"t":55536,"d":-0.14,"e":-0.02},
{"t":55573,"d":0.20,"e":0.12},{"t":55610,"d":-0.04,"e":-0.16},{"t":55647,"d":0.12,"e":0.20},{"t":55684,"d":-0.20,"e":-0.10},{"t":55721,"d":0.08,"e":0.06},{"t":55758,"d":-0.12,"e":-0.20},{"t":55795,"d":0.18,"e":0.14},{"t":55832,"d":-0.06,"e":-0.06},{"t":55869,"d":0.14,"e":0.18},{"t":55906,"d":-0.18,"e":-0.14},
{"t":55943,"d":0.02,"e":0.10},{"t":55980,"d":-0.14,"e":-0.18},{"t":56017,"d":0.16,"e":0.08},{"t":56054,"d":-0.08,"e":-0.12},{"t":56091,"d":0.10,"e":0.16},{"t":56128,"d":-0.16,"e":-0.06},{"t":56165,"d":0.06,"e":0.12},{"t":56202,"d":-0.12,"e":-0.16},{"t":56239,"d":0.16,"e":0.04},{"t":56276,"d":-0.04,"e":-0.10},
{"t":56313,"d":0.12,"e":0.16},{"t":56350,"d":-0.16,"e":-0.04},{"t":56387,"d":0.04,"e":0.10},{"t":56424,"d":-0.10,"e":-0.14},{"t":56461,"d":0.14,"e":0.06},{"t":56498,"d":-0.06,"e":-0.12},{"t":56535,"d":0.10,"e":0.14},{"t":56572,"d":-0.14,"e":-0.02},{"t":56609,"d":0.06,"e":0.12},{"t":56646,"d":-0.12,"e":-0.14},
{"t":56683,"d":0.16,"e":0.04},{"t":56720,"d":-0.02,"e":-0.10},{"t":56757,"d":0.12,"e":0.14},{"t":56794,"d":-0.16,"e":-0.06},{"t":56831,"d":0.04,"e":0.10},{"t":56868,"d":-0.10,"e":-0.14},{"t":56905,"d":0.14,"e":0.06},{"t":56942,"d":-0.06,"e":-0.12},{"t":56979,"d":0.10,"e":0.12},
{"t":53863,"a":0.68},
{"t":53920,"c":0.52},
{"t":53923,"a":-0.38},
{"t":53936,"a":-0.92,"e":-0.92},
{"t":53780,"a":-0.26,"e":-0.23},
{"t":54099,"a":0.4,"d":0.4},
{"t":54376,"a":-0.57,"e":-0.57,"b":-0.81,"c":-0.81},
{"t":54558,"a":0.68},
{"t":55161,"a":0.7,"e":0.7},
{"t":55610,"a":0.38},
{"t":55775,"a":0.6,"e":0.52},
{"t":55877,"e":0.95},
{"t":55525,"a":-0.95,"e":-0.95,"c":-0.55},
{"t":55475,"e":-0.92},
{"t":55789,"a":-0.95,"e":-0.95},
{"t":55783,"e":-0.55},
{"t":55997,"b":-0.65},
{"t":56103,"e":-0.65},
{"t":56050,"a":0.38,"c":0.45},
{"t":56424,"a":-0.47,"e":-0.4,"c":-0.68},
{"t":56753,"a":-0.39}
],
"pdy":[
{"t":53705,"a":-0.04,"b":-0.02,"c":0.08,"d":-0.12,"e":-0.14},
{"t":53742,"a":0.14,"b":0.10,"c":-0.18,"d":0.10,"e":0.12},
{"t":53779,"a":-0.18,"b":-0.06,"c":0.18,"d":-0.06,"e":-0.08},
{"t":53816,"a":0.08,"b":0.14,"c":-0.06,"d":0.14,"e":0.16},
{"t":53853,"a":-0.14,"b":-0.12,"c":0.12,"d":-0.10,"e":-0.18},
{"t":53890,"a":0.18,"b":0.04,"c":-0.16,"d":0.08,"e":0.06},
{"t":53927,"a":-0.06,"b":-0.16,"c":0.20,"d":-0.14,"e":-0.16},
{"t":53964,"a":0.10,"b":0.12,"c":-0.12,"d":0.16,"e":0.20},
{"t":54001,"a":-0.20,"b":-0.08,"c":0.10,"d":-0.04,"e":-0.12},
{"t":54038,"a":0.14,"b":0.16,"c":-0.20,"d":0.12,"e":0.10},
{"t":54075,"a":-0.08,"b":-0.10,"c":0.14,"d":-0.16,"e":-0.20},
{"t":54112,"a":0.20,"b":0.06,"c":-0.08,"d":0.06,"e":0.16},
{"t":54149,"a":-0.12,"b":-0.14,"c":0.18,"d":-0.12,"e":-0.06},
{"t":54186,"a":0.06,"b":0.16,"c":-0.14,"d":0.18,"e":0.18},
{"t":54223,"a":-0.18,"b":-0.04,"c":0.08,"d":-0.08,"e":-0.14},
{"t":54260,"a":0.16,"b":0.14,"c":-0.18,"d":0.14,"e":0.10},
{"t":54297,"a":-0.04,"b":-0.16,"c":0.20,"d":-0.18,"e":-0.18},
{"t":54334,"a":0.20,"b":0.08,"c":-0.10,"d":0.04,"e":0.14},
{"t":54371,"a":-0.14,"b":-0.12,"c":0.16,"d":-0.14,"e":-0.08},
{"t":54408,"a":0.08,"b":0.18,"c":-0.20,"d":0.16,"e":0.20},
{"t":54445,"a":-0.20,"b":-0.06,"c":0.12,"d":-0.04,"e":-0.16},
{"t":54482,"a":0.14,"b":0.14,"c":-0.16,"d":0.10,"e":0.08},
{"t":54519,"a":-0.08,"b":-0.18,"c":0.20,"d":-0.16,"e":-0.20},
{"t":54556,"a":0.22,"b":0.06,"c":-0.06,"d":0.18,"e":0.16},
{"t":54593,"a":-0.14,"b":-0.14,"c":0.18,"d":-0.06,"e":-0.10},
{"t":54630,"a":0.06,"b":0.18,"c":-0.22,"d":0.08,"e":0.20},
{"t":54667,"a":-0.20,"b":-0.08,"c":0.14,"d":-0.18,"e":-0.14},
{"t":54704,"a":0.16,"b":0.16,"c":-0.16,"d":0.20,"e":0.10},
{"t":54741,"a":-0.06,"b":-0.22,"c":0.22,"d":-0.10,"e":-0.20},
{"t":54778,"a":0.20,"b":0.10,"c":-0.10,"d":0.16,"e":0.22},
{"t":54815,"a":-0.24,"b":-0.16,"c":0.20,"d":-0.22,"e":-0.06},
{"t":54852,"a":0.10,"b":0.20,"c":-0.24,"d":0.06,"e":0.18},
{"t":54889,"a":-0.18,"b":-0.04,"c":0.10,"d":-0.16,"e":-0.22},
{"t":54926,"a":0.24,"b":0.14,"c":-0.18,"d":0.22,"e":0.14},
{"t":54963,"a":-0.10,"b":-0.20,"c":0.24,"d":-0.08,"e":-0.16},
{"t":55000,"a":0.14,"b":0.08,"c":-0.08,"d":0.14,"e":0.24},
{"t":55037,"a":-0.22,"b":-0.12,"c":0.12,"d":-0.20,"e":-0.08},
{"t":55074,"a":0.18,"b":0.22,"c":-0.20,"d":0.10,"e":0.20},
{"t":55111,"a":0.06,"b":-0.06,"c":0.16,"d":-0.14,"e":-0.24},
{"t":55148,"a":-0.16,"b":0.16,"c":-0.14,"d":0.20,"e":0.10},
{"t":55185,"a":0.22,"b":-0.18,"c":0.24,"d":-0.04,"e":-0.18},
{"t":55222,"a":-0.08,"b":0.10,"c":0.08,"d":0.16,"e":0.16},
{"t":55259,"a":0.14,"b":-0.12,"c":-0.22,"d":-0.18,"e":-0.12},
{"t":55296,"a":-0.20,"b":0.20,"c":0.20,"d":0.08,"e":0.22},
{"t":55333,"a":0.08,"b":0.06,"c":-0.10,"d":-0.12,"e":0.06},
{"t":55370,"a":-0.14,"b":-0.16,"c":0.14,"d":0.18,"e":-0.22},
{"t":55407,"a":0.20,"b":0.14,"c":-0.16,"d":-0.06,"e":0.18},
{"t":55444,"a":-0.06,"b":-0.04,"c":0.22,"d":0.12,"e":-0.10},
{"t":55481,"a":0.16,"b":0.18,"c":-0.06,"d":-0.16,"e":0.12},
{"t":55518,"a":-0.18,"b":-0.10,"c":0.10,"d":0.00,"e":-0.16},
{"t":55555,"a":0.10,"b":0.08,"c":-0.20,"d":0.16,"e":0.22},
{"t":55592,"a":-0.12,"b":-0.14,"c":0.18,"d":-0.10,"e":-0.06},
{"t":55629,"a":0.22,"b":0.12,"c":0.04,"d":0.08,"e":0.16},
{"t":55666,"a":-0.04,"b":-0.02,"c":-0.14,"d":-0.14,"e":-0.20},
{"t":55703,"a":0.16,"b":0.16,"c":0.20,"d":0.14,"e":0.08},
{"t":55740,"a":-0.20,"b":-0.08,"c":-0.08,"d":-0.04,"e":-0.14},
{"t":55777,"a":0.06,"b":0.14,"c":0.12,"d":0.06,"e":0.20},
{"t":55814,"a":-0.14,"b":0.06,"c":-0.18,"d":-0.16,"e":0.04},
{"t":55851,"a":0.20,"b":-0.16,"c":0.16,"d":0.10,"e":-0.10},
{"t":55888,"a":-0.08,"b":0.10,"c":-0.06,"d":-0.08,"e":0.14},
{"t":55925,"a":0.14,"b":-0.06,"c":0.08,"d":0.16,"e":-0.18},
{"t":55962,"a":-0.18,"b":0.16,"c":-0.16,"d":0.02,"e":0.12},
{"t":55999,"a":0.08,"b":-0.10,"c":0.20,"d":-0.12,"e":-0.04},
{"t":56036,"a":-0.12,"b":0.04,"c":-0.10,"d":0.14,"e":0.20},
{"t":56073,"a":0.18,"b":-0.14,"c":0.10,"d":-0.06,"e":-0.16},
{"t":56110,"a":0.04,"b":0.12,"c":-0.20,"d":0.10,"e":0.06},
{"t":56147,"a":-0.16,"b":-0.02,"c":0.14,"d":-0.14,"e":-0.08},
{"t":56184,"a":0.12,"b":0.14,"c":-0.04,"d":0.06,"e":0.16},
{"t":56221,"a":-0.06,"b":-0.06,"c":0.18,"d":-0.10,"e":-0.20},
{"t":56258,"a":0.20,"b":0.10,"c":-0.14,"d":0.16,"e":0.10},
{"t":56295,"a":-0.10,"b":-0.16,"c":0.06,"d":-0.02,"e":-0.14},
{"t":56332,"a":0.06,"b":0.06,"c":-0.18,"d":0.12,"e":0.18},
{"t":56369,"a":-0.20,"b":-0.12,"c":0.12,"d":-0.16,"e":-0.06},
{"t":56406,"a":0.16,"b":0.14,"c":-0.08,"d":0.04,"e":0.14},
{"t":56443,"a":-0.02,"b":-0.04,"c":0.20,"d":-0.12,"e":-0.18},
{"t":56480,"a":0.10,"b":0.08,"c":-0.12,"d":0.14,"e":0.05},
{"t":56517,"a":-0.14,"b":-0.10,"c":0.16,"d":-0.06,"e":-0.10},
{"t":56554,"a":0.18,"b":0.16,"c":-0.06,"d":0.10,"e":0.20},
{"t":56591,"a":-0.06,"b":0.04,"c":0.10,"d":-0.14,"e":-0.16},
{"t":56628,"a":0.14,"b":-0.14,"c":-0.20,"d":0.08,"e":0.12},
{"t":56665,"a":-0.16,"b":0.12,"c":0.08,"d":-0.04,"e":-0.05},
{"t":56702,"a":0.02,"b":-0.08,"c":-0.15,"d":0.16,"e":0.18},
{"t":56739,"a":-0.10,"b":0.15,"c":0.18,"d":-0.10,"e":-0.12},
{"t":56776,"a":0.20,"b":0.02,"c":-0.05,"d":0.12,"e":0.08},
{"t":56813,"a":-0.05,"b":-0.16,"c":0.15,"d":0.05,"e":-0.20},
{"t":56850,"a":0.08,"b":0.06,"c":-0.10,"d":-0.15,"e":0.15},
{"t":56887,"a":-0.18,"b":-0.12,"c":0.20,"d":0.10,"e":-0.08},
{"t":56924,"a":0.15,"b":0.14,"c":0.05,"d":-0.02,"e":0.20},
{"t":56961,"a":-0.12,"b":-0.05,"c":-0.18,"d":0.15,"e":0.10},
{"t":56998,"a":0.05,"b":0.10,"c":0.12,"d":-0.08,"e":-0.15},
{"t":53723,"d":0.08,"e":0.10},{"t":53760,"d":-0.12,"e":-0.14},{"t":53797,"d":-0.16,"e":0.06},{"t":53834,"d":0.14,"e":-0.10},{"t":53871,"d":-0.04,"e":0.16},{"t":53908,"d":0.10,"e":-0.04},{"t":53945,"d":-0.14,"e":0.12},{"t":53982,"d":0.02,"e":-0.16},{"t":54019,"d":-0.10,"e":0.02},{"t":54056,"d":0.16,"e":0.14},
{"t":54093,"d":-0.06,"e":-0.08},{"t":54130,"d":0.12,"e":0.10},{"t":54167,"d":-0.16,"e":-0.18},{"t":54204,"d":0.06,"e":0.06},{"t":54241,"d":-0.12,"e":-0.12},{"t":54278,"d":0.14,"e":0.16},{"t":54315,"d":-0.08,"e":-0.02},{"t":54352,"d":0.10,"e":0.12},{"t":54389,"d":-0.14,"e":-0.14},{"t":54426,"d":0.04,"e":0.04},
{"t":54463,"d":-0.16,"e":-0.10},{"t":54500,"d":0.12,"e":0.14},{"t":54537,"d":-0.02,"e":-0.06},{"t":54574,"d":0.16,"e":0.18},{"t":54611,"d":-0.10,"e":-0.16},{"t":54648,"d":0.08,"e":0.08},{"t":54685,"d":-0.14,"e":-0.04},{"t":54722,"d":0.02,"e":0.14},{"t":54759,"d":-0.12,"e":-0.12},{"t":54796,"d":0.14,"e":0.02},
{"t":54833,"d":-0.06,"e":0.16},{"t":54870,"d":0.10,"e":-0.08},{"t":54907,"d":-0.16,"e":0.10},{"t":54944,"d":0.06,"e":-0.18},{"t":54981,"d":-0.10,"e":0.06},{"t":55018,"d":0.16,"e":-0.10},{"t":55055,"d":-0.04,"e":0.16},{"t":55092,"d":0.12,"e":-0.02},{"t":55129,"d":-0.16,"e":0.12},{"t":55166,"d":0.04,"e":-0.16},
{"t":55203,"d":-0.12,"e":0.04},{"t":55240,"d":0.16,"e":-0.12},{"t":55277,"d":-0.08,"e":0.18},{"t":55314,"d":0.10,"e":-0.06},{"t":55351,"d":-0.18,"e":0.10},{"t":55388,"d":0.08,"e":-0.18},{"t":55425,"d":-0.06,"e":0.14},{"t":55462,"d":0.18,"e":-0.08},{"t":55499,"d":-0.14,"e":0.06},{"t":55536,"d":0.02,"e":-0.14},
{"t":55573,"d":-0.12,"e":0.20},{"t":55610,"d":0.16,"e":-0.04},{"t":55647,"d":-0.20,"e":0.12},{"t":55684,"d":0.10,"e":-0.20},{"t":55721,"d":-0.06,"e":0.08},{"t":55758,"d":0.20,"e":-0.12},{"t":55795,"d":-0.14,"e":0.18},{"t":55832,"d":0.06,"e":-0.06},{"t":55869,"d":-0.18,"e":0.14},{"t":55906,"d":0.14,"e":-0.18},
{"t":55943,"d":-0.10,"e":0.02},{"t":55980,"d":0.18,"e":-0.14},{"t":56017,"d":-0.08,"e":0.16},{"t":56054,"d":0.12,"e":-0.08},{"t":56091,"d":-0.16,"e":0.10},{"t":56128,"d":0.06,"e":-0.16},{"t":56165,"d":-0.12,"e":0.06},{"t":56202,"d":0.16,"e":-0.12},{"t":56239,"d":-0.04,"e":0.16},{"t":56276,"d":0.10,"e":-0.04},
{"t":56313,"d":-0.16,"e":0.12},{"t":56350,"d":0.04,"e":-0.16},{"t":56387,"d":-0.10,"e":0.04},{"t":56424,"d":0.14,"e":-0.10},{"t":56461,"d":-0.06,"e":0.14},{"t":56498,"d":0.12,"e":-0.06},{"t":56535,"d":-0.14,"e":0.10},{"t":56572,"d":0.02,"e":-0.14},{"t":56609,"d":-0.12,"e":0.06},{"t":56646,"d":0.14,"e":-0.12},
{"t":56683,"d":-0.04,"e":0.16},{"t":56720,"d":0.10,"e":-0.02},{"t":56757,"d":-0.14,"e":0.12},{"t":56794,"d":0.06,"e":-0.16},{"t":56831,"d":-0.10,"e":0.04},{"t":56868,"d":0.14,"e":-0.10},{"t":56905,"d":-0.06,"e":0.14},{"t":56942,"d":0.12,"e":-0.06},{"t":56979,"d":-0.12,"e":0.10},
{"t":54093,"a":0.44,"d":0.44},
{"t":53863,"a":-0.27},
{"t":53780,"a":-0.22},
{"t":54376,"a":-0.51,"e":-0.51,"b":-0.75,"c":-0.75},
{"t":54643,"a":0.42,"c":0.45},
{"t":54555,"e":-0.55},
{"t":55161,"a":0.47},
{"t":55233,"a":0.78},
{"t":55516,"a":-0.42,"e":-0.42,"c":-0.77},
{"t":55403,"e":-0.4},
{"t":55749,"a":0.73,"e":0.92},
{"t":55792,"a":0.92,"e":0.9},
{"t":55877,"a":0.92},
{"t":56025,"a":0.84,"b":0.84,"e":0.8,"c":0.95},
{"t":56097,"e":0.81},
{"t":56110,"e":0.36},
{"t":55789,"a":-0.48,"b":-0.42,"e":-0.48},
{"t":56333,"a":0.34},
{"t":56773,"a":0.28},
{"t":56735,"a":-0.45,"e":-0.4},
{"t":55573,"e":-0.66}
],
"put":[
{"t":53705,"a":0.014,"b":-0.006,"c":-0.008,"d":0.010,"e":-0.008},
{"t":53742,"a":-0.010,"b":0.016,"c":0.010,"d":-0.016,"e":0.020},
{"t":53779,"a":0.004,"b":-0.018,"c":-0.016,"d":0.006,"e":-0.014},
{"t":53816,"a":0.020,"b":0.012,"c":0.006,"d":0.014,"e":0.006},
{"t":53853,"a":-0.014,"b":-0.008,"c":-0.004,"d":-0.008,"e":-0.020},
{"t":53890,"a":0.008,"b":0.020,"c":0.014,"d":0.016,"e":0.016},
{"t":53927,"a":-0.020,"b":-0.014,"c":-0.014,"d":-0.002,"e":-0.004},
{"t":53964,"a":0.016,"b":0.004,"c":0.008,"d":0.012,"e":0.022},
{"t":54001,"a":-0.006,"b":0.018,"c":-0.010,"d":-0.014,"e":-0.012},
{"t":54038,"a":0.022,"b":-0.020,"c":0.016,"d":0.008,"e":0.010},
{"t":54075,"a":-0.016,"b":0.010,"c":0.000,"d":-0.010,"e":-0.018},
{"t":54112,"a":0.012,"b":-0.006,"c":-0.016,"d":0.018,"e":0.016},
{"t":54149,"a":-0.010,"b":0.022,"c":0.012,"d":-0.004,"e":-0.006},
{"t":54186,"a":0.018,"b":-0.016,"c":-0.006,"d":0.014,"e":0.020},
{"t":54223,"a":-0.022,"b":0.014,"c":0.018,"d":-0.016,"e":-0.014},
{"t":54260,"a":0.006,"b":-0.010,"c":-0.012,"d":0.006,"e":0.008},
{"t":54297,"a":0.022,"b":0.020,"c":0.008,"d":0.020,"e":-0.020},
{"t":54334,"a":-0.012,"b":-0.022,"c":-0.018,"d":-0.012,"e":0.014},
{"t":54371,"a":0.016,"b":0.008,"c":0.016,"d":0.010,"e":-0.008},
{"t":54408,"a":-0.018,"b":0.024,"c":-0.004,"d":-0.018,"e":0.022},
{"t":54445,"a":0.010,"b":-0.014,"c":0.020,"d":0.016,"e":-0.016},
{"t":54482,"a":-0.024,"b":0.016,"c":-0.014,"d":-0.006,"e":0.006},
{"t":54519,"a":0.020,"b":-0.020,"c":0.010,"d":0.022,"e":0.018},
{"t":54556,"a":-0.008,"b":0.012,"c":-0.020,"d":-0.012,"e":-0.022},
{"t":54593,"a":0.024,"b":-0.008,"c":0.014,"d":0.008,"e":0.014},
{"t":54630,"a":-0.016,"b":0.024,"c":-0.008,"d":-0.020,"e":-0.010},
{"t":54667,"a":0.014,"b":-0.018,"c":0.022,"d":0.014,"e":0.024},
{"t":54704,"a":-0.022,"b":0.010,"c":-0.016,"d":-0.004,"e":-0.018},
{"t":54741,"a":0.018,"b":-0.024,"c":0.006,"d":0.020,"e":0.010},
{"t":54778,"a":-0.006,"b":0.020,"c":-0.022,"d":-0.016,"e":-0.024},
{"t":54815,"a":0.022,"b":-0.010,"c":0.016,"d":0.010,"e":0.020},
{"t":54852,"a":-0.020,"b":0.022,"c":-0.010,"d":-0.022,"e":-0.006},
{"t":54889,"a":0.010,"b":-0.016,"c":0.020,"d":0.016,"e":0.016},
{"t":54926,"a":-0.014,"b":0.014,"c":-0.018,"d":-0.008,"e":-0.020},
{"t":54963,"a":0.020,"b":-0.022,"c":0.008,"d":0.018,"e":0.006},
{"t":55000,"a":-0.010,"b":0.018,"c":-0.006,"d":-0.014,"e":-0.014},
{"t":55037,"a":0.016,"b":-0.006,"c":0.018,"d":0.006,"e":0.022},
{"t":55074,"a":-0.020,"b":0.020,"c":-0.016,"d":-0.018,"e":-0.008},
{"t":55111,"a":0.008,"b":-0.016,"c":0.010,"d":0.014,"e":0.014},
{"t":55148,"a":-0.016,"b":0.012,"c":-0.004,"d":-0.006,"e":-0.020},
{"t":55185,"a":0.020,"b":-0.020,"c":0.016,"d":0.018,"e":0.008},
{"t":55222,"a":-0.008,"b":0.016,"c":-0.014,"d":-0.012,"e":-0.014},
{"t":55259,"a":0.014,"b":-0.010,"c":0.004,"d":0.008,"e":0.020},
{"t":55296,"a":-0.018,"b":0.020,"c":-0.018,"d":-0.016,"e":-0.004},
{"t":55333,"a":0.010,"b":-0.018,"c":0.014,"d":0.014,"e":0.016},
{"t":55370,"a":-0.014,"b":0.008,"c":-0.008,"d":-0.004,"e":-0.018},
{"t":55407,"a":0.018,"b":-0.014,"c":0.018,"d":0.016,"e":0.006},
{"t":55444,"a":-0.006,"b":0.018,"c":-0.012,"d":-0.014,"e":-0.012},
{"t":55481,"a":0.016,"b":-0.008,"c":0.006,"d":0.006,"e":0.020},
{"t":55518,"a":-0.020,"b":0.014,"c":-0.016,"d":-0.010,"e":-0.008},
{"t":55555,"a":0.010,"b":-0.020,"c":0.012,"d":0.016,"e":0.014},
{"t":55592,"a":-0.012,"b":0.010,"c":-0.004,"d":-0.008,"e":-0.020},
{"t":55629,"a":0.020,"b":-0.012,"c":0.016,"d":0.012,"e":0.010},
{"t":55666,"a":-0.016,"b":0.020,"c":-0.014,"d":-0.016,"e":-0.006},
{"t":55703,"a":0.006,"b":-0.016,"c":0.008,"d":0.004,"e":0.018},
{"t":55740,"a":-0.018,"b":0.012,"c":-0.010,"d":-0.012,"e":-0.014},
{"t":55777,"a":0.016,"b":-0.006,"c":0.014,"d":0.014,"e":0.008},
{"t":55814,"a":-0.008,"b":0.018,"c":-0.006,"d":-0.006,"e":-0.018},
{"t":55851,"a":0.012,"b":-0.018,"c":0.010,"d":0.010,"e":0.014},
{"t":55888,"a":-0.014,"b":0.008,"c":-0.012,"d":-0.002,"e":-0.004},
{"t":55925,"a":-0.015,"b":0.012,"c":-0.008,"d":0.010,"e":0.005},
{"t":55962,"a":0.010,"b":-0.018,"c":0.015,"d":-0.005,"e":-0.012},
{"t":55999,"a":0.020,"b":0.005,"c":-0.002,"d":0.014,"e":0.015},
{"t":56036,"a":-0.008,"b":0.020,"c":0.010,"d":-0.012,"e":-0.018},
{"t":56073,"a":0.015,"b":-0.010,"c":-0.015,"d":0.006,"e":0.008},
{"t":56110,"a":-0.020,"b":0.015,"c":0.005,"d":-0.016,"e":-0.005},
{"t":56147,"a":0.008,"b":-0.005,"c":0.012,"d":0.002,"e":0.020},
{"t":56184,"a":-0.012,"b":0.018,"c":-0.010,"d":0.015,"e":-0.010},
{"t":56221,"a":0.018,"b":-0.015,"c":0.016,"d":-0.008,"e":0.002},
{"t":56258,"a":-0.005,"b":0.008,"c":-0.004,"d":0.012,"e":-0.016},
{"t":56295,"a":0.012,"b":-0.020,"c":0.008,"d":-0.014,"e":0.014},
{"t":56332,"a":-0.016,"b":0.010,"c":-0.014,"d":0.004,"e":-0.006},
{"t":56369,"a":0.020,"b":-0.006,"c":0.010,"d":0.016,"e":0.018},
{"t":56406,"a":-0.010,"b":0.016,"c":-0.006,"d":-0.010,"e":-0.014},
{"t":56443,"a":0.005,"b":-0.012,"c":0.014,"d":0.008,"e":0.010},
{"t":56480,"a":-0.018,"b":0.020,"c":-0.012,"d":-0.004,"e":-0.002},
{"t":56517,"a":0.014,"b":-0.008,"c":0.004,"d":0.014,"e":0.016},
{"t":56554,"a":-0.006,"b":0.012,"c":-0.016,"d":-0.012,"e":-0.020},
{"t":56591,"a":0.018,"b":-0.018,"c":0.012,"d":0.006,"e":0.006},
{"t":56628,"a":-0.014,"b":0.006,"c":-0.002,"d":-0.016,"e":-0.010},
{"t":56665,"a":0.010,"b":-0.014,"c":0.016,"d":0.010,"e":0.020},
{"t":56702,"a":-0.020,"b":0.018,"c":-0.010,"d":-0.006,"e":-0.006},
{"t":56739,"a":0.016,"b":-0.004,"c":0.006,"d":0.014,"e":0.012},
{"t":56776,"a":-0.008,"b":0.014,"c":-0.014,"d":-0.002,"e":-0.016},
{"t":56813,"a":0.006,"b":-0.020,"c":0.010,"d":0.012,"e":0.004},
{"t":56850,"a":-0.016,"b":0.010,"c":-0.006,"d":-0.014,"e":0.018},
{"t":56887,"a":0.020,"b":-0.010,"c":0.014,"d":0.004,"e":-0.012},
{"t":56924,"a":-0.004,"b":0.020,"c":-0.012,"d":-0.010,"e":0.008},
{"t":56961,"a":0.012,"b":-0.016,"c":0.002,"d":0.016,"e":-0.018},
{"t":56998,"a":-0.018,"b":0.008,"c":0.016,"d":-0.006,"e":0.014},
{"t":53723,"d":-0.008,"e":-0.010},{"t":53760,"d":0.012,"e":0.014},{"t":53797,"d":0.016,"e":-0.006},{"t":53834,"d":-0.014,"e":0.010},{"t":53871,"d":0.004,"e":-0.016},{"t":53908,"d":-0.010,"e":0.004},{"t":53945,"d":0.014,"e":-0.012},{"t":53982,"d":-0.002,"e":0.016},{"t":54019,"d":0.010,"e":-0.002},{"t":54056,"d":-0.016,"e":-0.014},
{"t":54093,"d":0.006,"e":0.008},{"t":54130,"d":-0.012,"e":-0.010},{"t":54167,"d":0.016,"e":0.018},{"t":54204,"d":-0.006,"e":-0.006},{"t":54241,"d":0.012,"e":0.012},{"t":54278,"d":-0.014,"e":-0.016},{"t":54315,"d":0.008,"e":0.002},{"t":54352,"d":-0.010,"e":-0.012},{"t":54389,"d":0.014,"e":0.014},{"t":54426,"d":-0.004,"e":-0.004},
{"t":54463,"d":0.016,"e":0.010},{"t":54500,"d":-0.012,"e":-0.014},{"t":54537,"d":0.002,"e":0.006},{"t":54574,"d":-0.016,"e":-0.018},{"t":54611,"d":0.010,"e":0.016},{"t":54648,"d":-0.008,"e":-0.008},{"t":54685,"d":0.014,"e":0.004},{"t":54722,"d":-0.002,"e":-0.014},{"t":54759,"d":0.012,"e":0.012},{"t":54796,"d":-0.014,"e":-0.002},
{"t":54833,"d":0.006,"e":-0.016},{"t":54870,"d":-0.010,"e":0.008},{"t":54907,"d":0.016,"e":-0.010},{"t":54944,"d":-0.006,"e":0.018},{"t":54981,"d":0.010,"e":-0.006},{"t":55018,"d":-0.016,"e":0.010},{"t":55055,"d":0.004,"e":-0.016},{"t":55092,"d":-0.012,"e":0.002},{"t":55129,"d":0.016,"e":-0.012},{"t":55166,"d":-0.004,"e":0.016},
{"t":55203,"d":0.012,"e":-0.004},{"t":55240,"d":-0.016,"e":0.012},{"t":55277,"d":0.008,"e":-0.018},{"t":55314,"d":-0.010,"e":0.006},{"t":55351,"d":0.018,"e":-0.010},{"t":55388,"d":-0.008,"e":0.018},{"t":55425,"d":0.006,"e":-0.014},{"t":55462,"d":-0.018,"e":0.008},{"t":55499,"d":0.014,"e":-0.006},{"t":55536,"d":-0.002,"e":0.014},
{"t":55573,"d":0.012,"e":-0.020},{"t":55610,"d":-0.016,"e":0.004},{"t":55647,"d":0.020,"e":-0.012},{"t":55684,"d":-0.010,"e":0.020},{"t":55721,"d":0.006,"e":-0.008},{"t":55758,"d":-0.020,"e":0.012},{"t":55795,"d":0.014,"e":-0.018},{"t":55832,"d":-0.006,"e":0.006},{"t":55869,"d":0.018,"e":-0.014},{"t":55906,"d":-0.014,"e":0.018},
{"t":55943,"d":0.010,"e":-0.002},{"t":55980,"d":-0.018,"e":0.014},{"t":56017,"d":0.008,"e":-0.016},{"t":56054,"d":-0.012,"e":0.008},{"t":56091,"d":0.016,"e":-0.010},{"t":56128,"d":-0.006,"e":0.016},{"t":56165,"d":0.012,"e":-0.006},{"t":56202,"d":-0.016,"e":0.012},{"t":56239,"d":0.004,"e":-0.016},{"t":56276,"d":-0.010,"e":0.004},
{"t":56313,"d":0.016,"e":-0.012},{"t":56350,"d":-0.004,"e":0.016},{"t":56387,"d":0.010,"e":-0.004},{"t":56424,"d":-0.014,"e":0.010},{"t":56461,"d":0.006,"e":-0.014},{"t":56498,"d":-0.012,"e":0.006},{"t":56535,"d":0.014,"e":-0.010},{"t":56572,"d":-0.002,"e":0.014},{"t":56609,"d":0.012,"e":-0.006},{"t":56646,"d":-0.014,"e":0.012},
{"t":56683,"d":0.004,"e":-0.016},{"t":56720,"d":-0.010,"e":0.002},{"t":56757,"d":0.014,"e":-0.012},{"t":56794,"d":-0.006,"e":0.016},{"t":56831,"d":0.010,"e":-0.004},{"t":56868,"d":-0.014,"e":0.010},{"t":56905,"d":0.006,"e":-0.014},{"t":56942,"d":-0.012,"e":0.006},{"t":56979,"d":0.012,"e":-0.010},
{"t":54234,"a":0.066,"b":0.066,"e":0.066,"c":0.05},
{"t":53948,"d":0.037},
{"t":53950,"d":-0.045},
{"t":53744,"d":-0.034},
{"t":54985,"a":0.068,"e":0.068},
{"t":54988,"e":-0.055},
{"t":55148,"a":-0.037,"b":-0.037,"e":-0.037},
{"t":54844,"a":-0.055,"e":-0.055},
{"t":55387,"a":-0.068},
{"t":55390,"e":-0.09},
{"t":55573,"d":0.066},
{"t":55520,"d":0.055},
{"t":55783,"a":0.066,"b":0.066,"e":0.066},
{"t":55815,"b":0.087},
{"t":55883,"a":-0.053},
{"t":55997,"a":-0.055,"b":-0.095},
{"t":56144,"e":0.076},
{"t":56230,"a":-0.055},
{"t":56433,"b":-0.082},
{"t":56584,"a":0.1,"e":0.1},
{"t":56703,"a":0.074,"e":0.074},
{"t":56719,"a":-0.097,"d":-0.097},
{"t":56860,"a":0.066},
{"t":56923,"a":0.06,"e":0.06},
{"t":56928,"d":-0.092},
{"t":56975,"d":-0.092},
{"t":57015,"a":-0.05},
{"t":56980,"b":0.066,"c":0.06},
{"t":57000,"e":-0.05}
]
},
"vconcat":[
{"width":1054,"height":75,"data":{"name":"px"},
"transform":[{"fold":["a","b","c","d","e"],"as":["s","v"]},{"filter":"isValid(datum.v)"}],
"mark":{"type":"point","size":256,"strokeWidth":1,"opacity":1},
"encoding":{
"x":{"field":"t","type":"quantitative","scale":{"domain":[53700,57010],"nice":false,"zero":false},"axis":{"values":[53700,53800,53900,54000,54100,54200,54300,54400,54500,54600,54700,54800,54900,55000,55100,55200,55300,55400,55500,55600,55700,55800,55900,56000,56100,56200,56300,56400,56500,56600,56700,56800,56900,57000],"grid":true,"labels":false,"tickSize":-10,"tickOpacity":{"condition":{"test":"datum.value % 500 === 0","value":1},"value":0},"title":null}},
"y":{"field":"v","type":"quantitative","scale":{"domain":[-2,2],"nice":false,"zero":false},"axis":{"values":[-2,-1.5,-1,-0.5,0,0.5,1,1.5,2],"grid":true,"format":"~g","labelExpr":"datum.value % 2 === 0 ? datum.label : ''","tickSize":-10,"tickOpacity":{"condition":{"test":"datum.value % 2 === 0","value":1},"value":0},"labelPadding":17,"title":"x [mas]","titlePadding":10}},
"stroke":{"field":"s","type":"nominal","scale":{"domain":["a","b","c","d","e"],"range":["#000000","#0000ff","#00ffff","#00ff00","#ff0000"]},"legend":{"title":null,"orient":"none","legendX":236,"legendY":448,"labelExpr":"datum.label === 'a' ? 'OBDW' : datum.label === 'b' ? 'BDW' : datum.label === 'c' ? 'SDW' : datum.label === 'd' ? 'OSDW' : 'SA'"}},
"fill":{"field":"s","type":"nominal","scale":{"domain":["a","b","c","d","e"],"range":["transparent","transparent","transparent","transparent","#ff0000"]},"legend":{"title":null,"orient":"none","legendX":236,"legendY":448,"labelExpr":"datum.label === 'a' ? 'OBDW' : datum.label === 'b' ? 'BDW' : datum.label === 'c' ? 'SDW' : datum.label === 'd' ? 'OSDW' : 'SA'"}},
"shape":{"field":"s","type":"nominal","scale":{"domain":["a","b","c","d","e"],"range":["M-0.97,0A0.97,0.97,0,1,1,0.97,0A0.97,0.97,0,1,1,-0.97,0Z","M-0.7,-0.7L0.7,0.7M-0.7,0.7L0.7,-0.7","M-0.95,0L0.95,0M0,-0.95L0,0.95","M-0.55,-0.55L0.55,-0.55L0.55,0.55L-0.55,0.55Z","M-0.5,0A0.5,0.5,0,1,1,0.5,0A0.5,0.5,0,1,1,-0.5,0Z"]},"legend":{"title":null,"orient":"none","legendX":236,"legendY":448,"labelExpr":"datum.label === 'a' ? 'OBDW' : datum.label === 'b' ? 'BDW' : datum.label === 'c' ? 'SDW' : datum.label === 'd' ? 'OSDW' : 'SA'"}},
"order":{"field":"s"}
}},
{"width":1054,"height":75,"data":{"name":"py"},
"transform":[{"fold":["a","b","c","d","e"],"as":["s","v"]},{"filter":"isValid(datum.v)"}],
"mark":{"type":"point","size":256,"strokeWidth":1,"opacity":1},
"encoding":{
"x":{"field":"t","type":"quantitative","scale":{"domain":[53700,57010],"nice":false,"zero":false},"axis":{"values":[53700,53800,53900,54000,54100,54200,54300,54400,54500,54600,54700,54800,54900,55000,55100,55200,55300,55400,55500,55600,55700,55800,55900,56000,56100,56200,56300,56400,56500,56600,56700,56800,56900,57000],"grid":true,"labels":false,"tickSize":-10,"tickOpacity":{"condition":{"test":"datum.value % 500 === 0","value":1},"value":0},"title":null}},
"y":{"field":"v","type":"quantitative","scale":{"domain":[-2,2],"nice":false,"zero":false},"axis":{"values":[-2,-1.5,-1,-0.5,0,0.5,1,1.5,2],"grid":true,"format":"~g","labelExpr":"datum.value % 2 === 0 ? datum.label : ''","tickSize":-10,"tickOpacity":{"condition":{"test":"datum.value % 2 === 0","value":1},"value":0},"labelPadding":17,"title":"y [mas]","titlePadding":10}},
"stroke":{"field":"s","type":"nominal","scale":{"domain":["a","b","c","d","e"],"range":["#000000","#0000ff","#00ffff","#00ff00","#ff0000"]},"legend":{"title":null,"orient":"none","legendX":236,"legendY":448,"labelExpr":"datum.label === 'a' ? 'OBDW' : datum.label === 'b' ? 'BDW' : datum.label === 'c' ? 'SDW' : datum.label === 'd' ? 'OSDW' : 'SA'"}},
"fill":{"field":"s","type":"nominal","scale":{"domain":["a","b","c","d","e"],"range":["transparent","transparent","transparent","transparent","#ff0000"]},"legend":{"title":null,"orient":"none","legendX":236,"legendY":448,"labelExpr":"datum.label === 'a' ? 'OBDW' : datum.label === 'b' ? 'BDW' : datum.label === 'c' ? 'SDW' : datum.label === 'd' ? 'OSDW' : 'SA'"}},
"shape":{"field":"s","type":"nominal","scale":{"domain":["a","b","c","d","e"],"range":["M-0.97,0A0.97,0.97,0,1,1,0.97,0A0.97,0.97,0,1,1,-0.97,0Z","M-0.7,-0.7L0.7,0.7M-0.7,0.7L0.7,-0.7","M-0.95,0L0.95,0M0,-0.95L0,0.95","M-0.55,-0.55L0.55,-0.55L0.55,0.55L-0.55,0.55Z","M-0.5,0A0.5,0.5,0,1,1,0.5,0A0.5,0.5,0,1,1,-0.5,0Z"]},"legend":{"title":null,"orient":"none","legendX":236,"legendY":448,"labelExpr":"datum.label === 'a' ? 'OBDW' : datum.label === 'b' ? 'BDW' : datum.label === 'c' ? 'SDW' : datum.label === 'd' ? 'OSDW' : 'SA'"}},
"order":{"field":"s"}
}},
{"width":1054,"height":75,"data":{"name":"pdx"},
"transform":[{"fold":["a","b","c","d","e"],"as":["s","v"]},{"filter":"isValid(datum.v)"}],
"mark":{"type":"point","size":256,"strokeWidth":1,"opacity":1},
"encoding":{
"x":{"field":"t","type":"quantitative","scale":{"domain":[53700,57010],"nice":false,"zero":false},"axis":{"values":[53700,53800,53900,54000,54100,54200,54300,54400,54500,54600,54700,54800,54900,55000,55100,55200,55300,55400,55500,55600,55700,55800,55900,56000,56100,56200,56300,56400,56500,56600,56700,56800,56900,57000],"grid":true,"labels":false,"tickSize":-10,"tickOpacity":{"condition":{"test":"datum.value % 500 === 0","value":1},"value":0},"title":null}},
"y":{"field":"v","type":"quantitative","scale":{"domain":[-1,1],"nice":false,"zero":false},"axis":{"values":[-1,-0.5,0,0.5,1],"grid":true,"format":"~g","labelExpr":"datum.value % 1 === 0 ? datum.label : ''","tickSize":-10,"tickOpacity":{"condition":{"test":"datum.value % 1 === 0","value":1},"value":0},"labelPadding":17,"title":"dX [mas]","titlePadding":10}},
"stroke":{"field":"s","type":"nominal","scale":{"domain":["a","b","c","d","e"],"range":["#000000","#0000ff","#00ffff","#00ff00","#ff0000"]},"legend":{"title":null,"orient":"none","legendX":236,"legendY":448,"labelExpr":"datum.label === 'a' ? 'OBDW' : datum.label === 'b' ? 'BDW' : datum.label === 'c' ? 'SDW' : datum.label === 'd' ? 'OSDW' : 'SA'"}},
"fill":{"field":"s","type":"nominal","scale":{"domain":["a","b","c","d","e"],"range":["transparent","transparent","transparent","transparent","#ff0000"]},"legend":{"title":null,"orient":"none","legendX":236,"legendY":448,"labelExpr":"datum.label === 'a' ? 'OBDW' : datum.label === 'b' ? 'BDW' : datum.label === 'c' ? 'SDW' : datum.label === 'd' ? 'OSDW' : 'SA'"}},
"shape":{"field":"s","type":"nominal","scale":{"domain":["a","b","c","d","e"],"range":["M-0.97,0A0.97,0.97,0,1,1,0.97,0A0.97,0.97,0,1,1,-0.97,0Z","M-0.7,-0.7L0.7,0.7M-0.7,0.7L0.7,-0.7","M-0.95,0L0.95,0M0,-0.95L0,0.95","M-0.55,-0.55L0.55,-0.55L0.55,0.55L-0.55,0.55Z","M-0.5,0A0.5,0.5,0,1,1,0.5,0A0.5,0.5,0,1,1,-0.5,0Z"]},"legend":{"title":null,"orient":"none","legendX":236,"legendY":448,"labelExpr":"datum.label === 'a' ? 'OBDW' : datum.label === 'b' ? 'BDW' : datum.label === 'c' ? 'SDW' : datum.label === 'd' ? 'OSDW' : 'SA'"}},
"order":{"field":"s"}
}},
{"width":1054,"height":75,"data":{"name":"pdy"},
"transform":[{"fold":["a","b","c","d","e"],"as":["s","v"]},{"filter":"isValid(datum.v)"}],
"mark":{"type":"point","size":256,"strokeWidth":1,"opacity":1},
"encoding":{
"x":{"field":"t","type":"quantitative","scale":{"domain":[53700,57010],"nice":false,"zero":false},"axis":{"values":[53700,53800,53900,54000,54100,54200,54300,54400,54500,54600,54700,54800,54900,55000,55100,55200,55300,55400,55500,55600,55700,55800,55900,56000,56100,56200,56300,56400,56500,56600,56700,56800,56900,57000],"grid":true,"labels":false,"tickSize":-10,"tickOpacity":{"condition":{"test":"datum.value % 500 === 0","value":1},"value":0},"title":null}},
"y":{"field":"v","type":"quantitative","scale":{"domain":[-1,1],"nice":false,"zero":false},"axis":{"values":[-1,-0.5,0,0.5,1],"grid":true,"format":"~g","labelExpr":"datum.value % 1 === 0 ? datum.label : ''","tickSize":-10,"tickOpacity":{"condition":{"test":"datum.value % 1 === 0","value":1},"value":0},"labelPadding":17,"title":"dY [mas]","titlePadding":10}},
"stroke":{"field":"s","type":"nominal","scale":{"domain":["a","b","c","d","e"],"range":["#000000","#0000ff","#00ffff","#00ff00","#ff0000"]},"legend":{"title":null,"orient":"none","legendX":236,"legendY":448,"labelExpr":"datum.label === 'a' ? 'OBDW' : datum.label === 'b' ? 'BDW' : datum.label === 'c' ? 'SDW' : datum.label === 'd' ? 'OSDW' : 'SA'"}},
"fill":{"field":"s","type":"nominal","scale":{"domain":["a","b","c","d","e"],"range":["transparent","transparent","transparent","transparent","#ff0000"]},"legend":{"title":null,"orient":"none","legendX":236,"legendY":448,"labelExpr":"datum.label === 'a' ? 'OBDW' : datum.label === 'b' ? 'BDW' : datum.label === 'c' ? 'SDW' : datum.label === 'd' ? 'OSDW' : 'SA'"}},
"shape":{"field":"s","type":"nominal","scale":{"domain":["a","b","c","d","e"],"range":["M-0.97,0A0.97,0.97,0,1,1,0.97,0A0.97,0.97,0,1,1,-0.97,0Z","M-0.7,-0.7L0.7,0.7M-0.7,0.7L0.7,-0.7","M-0.95,0L0.95,0M0,-0.95L0,0.95","M-0.55,-0.55L0.55,-0.55L0.55,0.55L-0.55,0.55Z","M-0.5,0A0.5,0.5,0,1,1,0.5,0A0.5,0.5,0,1,1,-0.5,0Z"]},"legend":{"title":null,"orient":"none","legendX":236,"legendY":448,"labelExpr":"datum.label === 'a' ? 'OBDW' : datum.label === 'b' ? 'BDW' : datum.label === 'c' ? 'SDW' : datum.label === 'd' ? 'OSDW' : 'SA'"}},
"order":{"field":"s"}
}},
{"width":1054,"height":75,"data":{"name":"put"},
"transform":[{"fold":["a","b","c","d","e"],"as":["s","v"]},{"filter":"isValid(datum.v)"}],
"mark":{"type":"point","size":256,"strokeWidth":1,"opacity":1},
"encoding":{
"x":{"field":"t","type":"quantitative","scale":{"domain":[53700,57010],"nice":false,"zero":false},"axis":{"values":[53700,53800,53900,54000,54100,54200,54300,54400,54500,54600,54700,54800,54900,55000,55100,55200,55300,55400,55500,55600,55700,55800,55900,56000,56100,56200,56300,56400,56500,56600,56700,56800,56900,57000],"grid":true,"labels":true,"format":"d","labelExpr":"datum.value % 500 === 0 ? datum.label : ''","labelPadding":18,"tickSize":-10,"tickOpacity":{"condition":{"test":"datum.value % 500 === 0","value":1},"value":0},"title":null}},
"y":{"field":"v","type":"quantitative","scale":{"domain":[-0.1,0.1],"nice":false,"zero":false},"axis":{"values":[-0.1,-0.05,0,0.05,0.1],"grid":true,"format":"~g","labelExpr":"abs(datum.value) !== 0.05 ? datum.label : ''","tickSize":-10,"tickOpacity":{"condition":{"test":"abs(datum.value) !== 0.05","value":1},"value":0},"labelPadding":17,"title":"UT1 [ms]","titlePadding":10}},
"stroke":{"field":"s","type":"nominal","scale":{"domain":["a","b","c","d","e"],"range":["#000000","#0000ff","#00ffff","#00ff00","#ff0000"]},"legend":{"title":null,"orient":"none","legendX":236,"legendY":448,"labelExpr":"datum.label === 'a' ? 'OBDW' : datum.label === 'b' ? 'BDW' : datum.label === 'c' ? 'SDW' : datum.label === 'd' ? 'OSDW' : 'SA'"}},
"fill":{"field":"s","type":"nominal","scale":{"domain":["a","b","c","d","e"],"range":["transparent","transparent","transparent","transparent","#ff0000"]},"legend":{"title":null,"orient":"none","legendX":236,"legendY":448,"labelExpr":"datum.label === 'a' ? 'OBDW' : datum.label === 'b' ? 'BDW' : datum.label === 'c' ? 'SDW' : datum.label === 'd' ? 'OSDW' : 'SA'"}},
"shape":{"field":"s","type":"nominal","scale":{"domain":["a","b","c","d","e"],"range":["M-0.97,0A0.97,0.97,0,1,1,0.97,0A0.97,0.97,0,1,1,-0.97,0Z","M-0.7,-0.7L0.7,0.7M-0.7,0.7L0.7,-0.7","M-0.95,0L0.95,0M0,-0.95L0,0.95","M-0.55,-0.55L0.55,-0.55L0.55,0.55L-0.55,0.55Z","M-0.5,0A0.5,0.5,0,1,1,0.5,0A0.5,0.5,0,1,1,-0.5,0Z"]},"legend":{"title":null,"orient":"none","legendX":236,"legendY":448,"labelExpr":"datum.label === 'a' ? 'OBDW' : datum.label === 'b' ? 'BDW' : datum.label === 'c' ? 'SDW' : datum.label === 'd' ? 'OSDW' : 'SA'"}},
"order":{"field":"s"}
}}
]
}
